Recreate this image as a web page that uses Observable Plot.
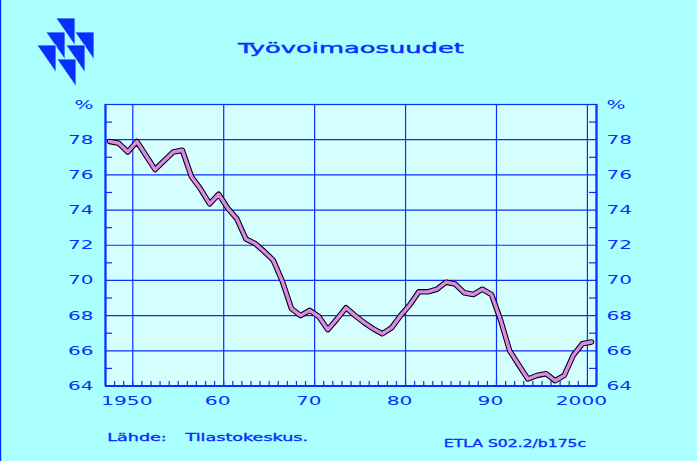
<!DOCTYPE html>
<html><head><meta charset="utf-8">
<script src="https://cdn.jsdelivr.net/npm/d3@7"></script>
<script src="https://cdn.jsdelivr.net/npm/@observablehq/plot@0.6"></script>
<style>html,body{margin:0;padding:0;background:#aaffff;overflow:hidden;}</style>
</head><body><div id="chart"></div>
<script>
// ---- data ----
const years = [1947,1948,1949,1950,1951,1952,1953,1954,1955,1956,1957,1958,1959,
  1960,1961,1962,1963,1964,1965,1966,1967,1968,1969,1970,1971,1972,1973,1974,1975,
  1976,1977,1978,1979,1980,1981,1982,1983,1984,1985,1986,1987,1988,1989,1990,1991,
  1992,1993,1994,1995,1996,1997,1998,1999,2000];
const values = [77.9,77.8,77.3,77.9,77.1,76.3,76.8,77.3,77.4,75.9,75.2,74.35,74.9,
  74.1,73.5,72.35,72.1,71.65,71.15,69.95,68.4,68.0,68.3,67.95,67.2,67.8,68.45,68.0,67.6,
  67.25,66.97,67.3,68.0,68.6,69.35,69.35,69.5,69.9,69.8,69.3,69.2,69.5,69.2,67.75,66.0,
  65.2,64.4,64.6,64.7,64.3,64.6,65.75,66.4,66.5];
const yTicks = [64,66,68,70,72,74,76,78,80];
const yLabels = ["64","66","68","70","72","74","76","78","%"];
const yMinor = [65,67,69,71,73,75,77,79];
const xTicks = [1950,1960,1970,1980,1990,2000];
const xLabels = ["1950","60","70","80","90","2000"];
const minorYears = d3.range(1948, 2001);
const title = "Työvoimaosuudet";
const sourceLabel = "Lähde:";
const sourceName = "Tilastokeskus.";
const code = "ETLA S02.2/b175c";

const data = years.map((year, i) => ({year, value: values[i]}));

const BLUE = "#0a2eff";
const W = 697, H = 461, mL = 105, mR = 101, mT = 104, mB = 75.5;
const fw = W - mL - mR, fh = H - mT - mB;
const xDomain = [1947, 2001], yDomain = [64, 80];

const plot = Plot.plot({
  width: W, height: H,
  marginLeft: mL, marginRight: mR, marginTop: mT, marginBottom: mB,
  style: {background: "#aaffff", color: BLUE, fontFamily: "DejaVu Sans, sans-serif", fontSize: "12.5px"},
  x: {domain: xDomain, axis: null},
  y: {domain: yDomain, axis: null},
  marks: [
    Plot.frame({fill: "#d5ffff", stroke: BLUE, strokeWidth: 1.2}),
    Plot.gridY(yTicks.slice(1, -1), {stroke: BLUE, strokeOpacity: 1, strokeWidth: 1.2}),
    Plot.gridX(xTicks, {stroke: BLUE, strokeOpacity: 1, strokeWidth: 1.2}),
    Plot.tickY(yMinor, {y: d => d, stroke: BLUE, strokeWidth: 1.2, insetRight: fw - 7}),
    Plot.tickY(yMinor, {y: d => d, stroke: BLUE, strokeWidth: 1.2, insetLeft: fw - 7}),
    Plot.tickX(minorYears, {x: d => d, stroke: BLUE, strokeWidth: 1.2, insetTop: fh - 4.5}),
    Plot.ruleX([xDomain[0], xDomain[1]], {stroke: BLUE, strokeWidth: 2.2}),
    Plot.ruleY([yDomain[0]], {stroke: BLUE, strokeWidth: 2.2}),
    Plot.lineY(data, {x: d => d.year + 0.45, y: "value", stroke: "#000", strokeWidth: 5.5}),
    Plot.lineY(data, {x: d => d.year + 0.45, y: "value", stroke: "#d98ae8", strokeWidth: 3.4}),
    Plot.axisY(yTicks, {anchor: "left", label: null, tickSize: 0, tickPadding: 12, fontSize: 12.5,
      tickFormat: d => yLabels[yTicks.indexOf(d)], fill: BLUE, stroke: BLUE, strokeWidth: 0.35}),
    Plot.axisY(yTicks, {anchor: "right", label: null, tickSize: 0, tickPadding: 10, fontSize: 12.5,
      tickFormat: d => yLabels[yTicks.indexOf(d)], fill: BLUE, stroke: BLUE, strokeWidth: 0.35}),
    Plot.axisX(xTicks, {anchor: "bottom", label: null, tickSize: 0, tickPadding: 10.5, fontSize: 12.5, dx: -6,
      tickFormat: d => xLabels[xTicks.indexOf(d)], fill: BLUE, stroke: BLUE, strokeWidth: 0.35}),
    Plot.text([title], {frameAnchor: "top", dy: -55.7, text: d => d, fontSize: 14, lineAnchor: "middle",
      fill: BLUE, stroke: BLUE, strokeWidth: 0.4}),
    Plot.text([sourceLabel], {frameAnchor: "bottom-left", dx: 1.7, dy: 51.9, text: d => d, fontSize: 11,
      textAnchor: "start", lineAnchor: "middle", fill: BLUE, stroke: BLUE, strokeWidth: 0.35}),
    Plot.text([sourceName], {frameAnchor: "bottom-left", dx: 80, dy: 51.9, text: d => d, fontSize: 11,
      textAnchor: "start", lineAnchor: "middle", fill: BLUE, stroke: BLUE, strokeWidth: 0.35}),
    Plot.text([code], {frameAnchor: "bottom-left", dx: 338.3, dy: 57.9, text: d => d, fontSize: 11,
      textAnchor: "start", lineAnchor: "middle", fill: BLUE, stroke: BLUE, strokeWidth: 0.35})
  ]
});

function stretchEl(t, s) {
  const x = parseFloat(t.getAttribute("x")) || 0;
  const tr = t.getAttribute("transform") || "";
  t.setAttribute("transform", `${tr} translate(${x},0) scale(${s},1) translate(${-x},0)`);
}
const scaleFor = new Map([[title, 1.84], [sourceLabel, 1.6], [sourceName, 1.6], [code, 1.42]]);
plot.querySelectorAll("text").forEach(t => {
  const s = t.textContent.trim();
  if (scaleFor.has(s)) stretchEl(t, scaleFor.get(s));
  else if (yLabels.includes(s)) stretchEl(t, 1.6);
  else if (xLabels.includes(s)) stretchEl(t, 1.62);
});

// logo and left border
const svg = d3.select(plot);
const tris = [[56,18],[46,32],[75,32],[37,45],[66,45],[57,59]];
svg.append("g").selectAll("path").data(tris).join("path")
  .attr("d", ([x, y]) => `M${x},${y}H${x+19}V${y+27.5}Z`)
  .attr("fill", BLUE).attr("stroke", "#aaffff").attr("stroke-width", 0.8);
svg.append("rect").attr("x", 0).attr("y", 0).attr("width", 1.2).attr("height", H).attr("fill", BLUE);

document.getElementById("chart").append(plot);
</script>
</body></html>
